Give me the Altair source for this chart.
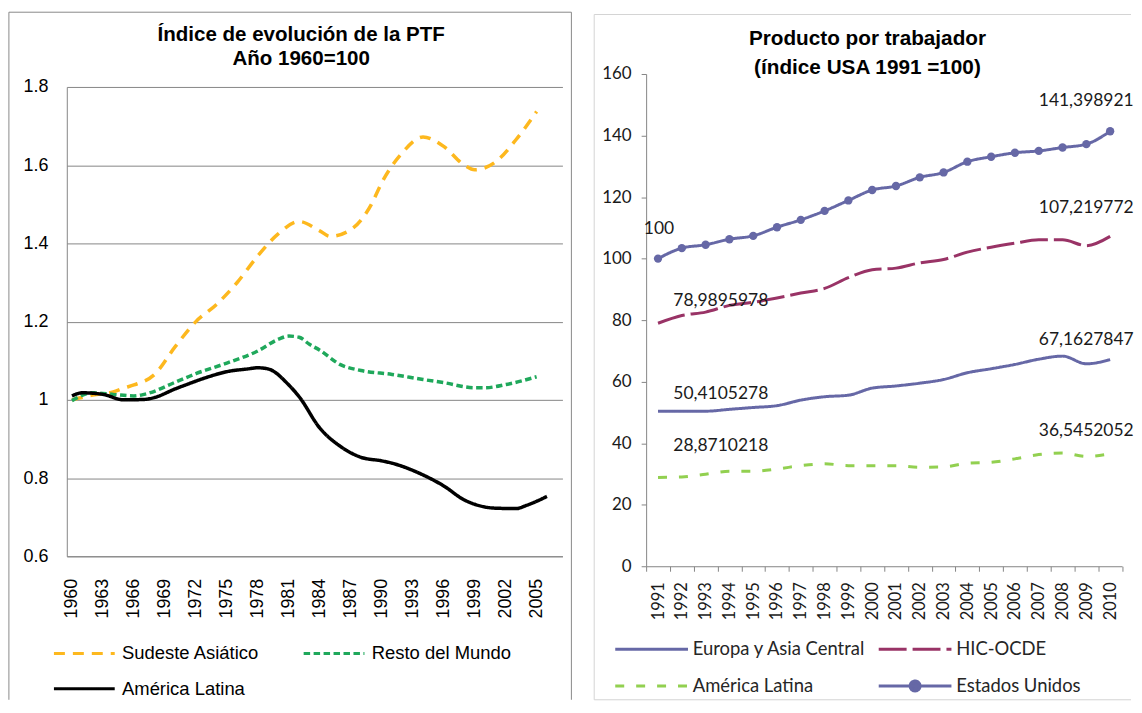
import altair as alt
import pandas as pd

# ---------------- Left chart data: Índice de evolución de la PTF ----------------
left_series = ["Sudeste Asiático", "Resto del Mundo", "América Latina"]

sud_years = [1960, 1962, 1964, 1965, 1966, 1968, 1970, 1972, 1974, 1976, 1978, 1980,
             1982, 1984, 1985, 1987, 1989, 1990, 1992, 1994, 1996, 1998, 1999, 2001,
             2003, 2005]
sud_vals = [1.0, 1.012, 1.02, 1.03, 1.038, 1.065, 1.136, 1.20, 1.244, 1.30, 1.368, 1.425,
            1.456, 1.432, 1.418, 1.435, 1.50, 1.555, 1.632, 1.672, 1.648, 1.60, 1.588, 1.608,
            1.665, 1.737]

resto_years = [1960, 1962, 1964, 1966, 1967, 1970, 1972, 1975, 1978, 1980, 1981, 1982,
               1983, 1984, 1986, 1988, 1991, 1994, 1996, 1999, 2000, 2002, 2005]
resto_vals = [0.998, 1.018, 1.014, 1.01, 1.014, 1.045, 1.067, 1.094, 1.125, 1.155, 1.163, 1.16,
              1.142, 1.127, 1.09, 1.075, 1.065, 1.052, 1.044, 1.031, 1.031, 1.039, 1.059]

lat_years = [1960, 1961, 1963, 1965, 1967, 1968, 1970, 1971, 1973, 1975, 1977, 1978, 1979,
             1981, 1982, 1984, 1986, 1988, 1990, 1991, 1994, 1996, 1998, 1999, 2001, 2003,
             2004, 2006]
lat_vals = [1.01, 1.018, 1.014, 1.0, 1.001, 1.006, 1.028, 1.038, 1.057, 1.072, 1.079, 1.082, 1.079,
            1.038, 1.008, 0.928, 0.881, 0.853, 0.844, 0.838, 0.808, 0.78, 0.744, 0.733, 0.723, 0.722,
            0.73, 0.753]

left_x_ticks = list(range(1960, 2006, 3))
left_y_ticks = [0.6, 0.8, 1.0, 1.2, 1.4, 1.6, 1.8]

# ---------------- Right chart data: Producto por trabajador ----------------
right_series = ["Europa y Asia Central", "HIC-OCDE", "América Latina", "Estados Unidos"]
right_years = [str(y) for y in range(1991, 2011)]
europa = [50.4105278, 50.4, 50.4, 51.0, 51.6, 52.2, 54.0, 55.1, 55.6, 57.9, 58.6, 59.5, 60.7,
          62.9, 64.2, 65.6, 67.3, 68.3, 65.8, 67.1627847]
hic = [78.9895978, 81.5, 82.6, 84.8, 85.8, 87.2, 88.8, 90.3, 93.8, 96.4, 96.9, 98.6, 99.7,
       102.1, 103.7, 105.0, 106.1, 106.1, 104.2, 107.219772]
amlat = [28.8710218, 29.0, 29.9, 30.9, 30.9, 31.6, 32.7, 33.3, 32.7, 32.7, 32.7, 32.2, 32.3,
         33.5, 33.8, 34.9, 36.3, 36.8, 35.7, 36.5452052]
eeuu = [100, 103.4, 104.5, 106.3, 107.4, 110.2, 112.6, 115.5, 118.9, 122.3, 123.6, 126.4, 128.0,
        131.5, 133.1, 134.4, 135.0, 136.1, 137.2, 141.398921]
right_y_ticks = [0, 20, 40, 60, 80, 100, 120, 140, 160]


def fmt_label(v):
    v = float(v)
    s = str(int(v)) if v.is_integer() else repr(v)
    return s.replace(".", ",")


# ---------------- build tables ----------------
rows = []
for name, yrs, vals in [(left_series[0], sud_years, sud_vals),
                        (left_series[1], resto_years, resto_vals),
                        (left_series[2], lat_years, lat_vals)]:
    for y, v in zip(yrs, vals):
        rows.append({"year": y, "value": v, "grupo": name})
left_df = pd.DataFrame(rows)

rows = []
for name, vals in zip(right_series, [europa, hic, amlat, eeuu]):
    for i, (y, v) in enumerate(zip(right_years, vals)):
        rows.append({"year": y, "value": v, "serie": name, "label": fmt_label(v),
                     "pos": "first" if i == 0 else ("last" if i == len(vals) - 1 else "mid")})
right_df = pd.DataFrame(rows)

# ---------------- layout constants ----------------
LW, LH = 497.4, 484
RW, RH = 477.6, 494
GRAY = "#868686"


def frame(x1, x2, y1, y2, color, sides):
    base = alt.Chart(pd.DataFrame({"k": [0]}))
    out = []
    if "top" in sides:
        out.append(base.mark_rule(color=color, strokeWidth=1).encode(
            x=alt.value(x1), x2=alt.value(x2), y=alt.value(y1)))
    if "bottom" in sides:
        out.append(base.mark_rule(color=color, strokeWidth=1).encode(
            x=alt.value(x1), x2=alt.value(x2), y=alt.value(y2)))
    if "left" in sides:
        out.append(base.mark_rule(color=color, strokeWidth=1).encode(
            x=alt.value(x1), y=alt.value(y1), y2=alt.value(y2)))
    if "right" in sides:
        out.append(base.mark_rule(color=color, strokeWidth=1).encode(
            x=alt.value(x2), y=alt.value(y1), y2=alt.value(y2)))
    return out


# legend symbol paths: a long horizontal stroke (and a dot for the marker series)
LINE = "M-4,0L4,0"
R_DOT = 0.548
LINE_DOT = (f"M-4,0L4,0M-{R_DOT},0A{R_DOT},{R_DOT},0,1,1,{R_DOT},0"
            f"A{R_DOT},{R_DOT},0,1,1,-{R_DOT},0Z")

# ---------------- left chart ----------------
leg_l = alt.Legend(title=None, orient="none", legendX=8.1, legendY=572, direction="horizontal",
                   columns=2, symbolType=LINE, symbolSize=232.6, symbolStrokeWidth=3,
                   labelFont="Liberation Sans", labelFontSize=18.5, labelColor="black",
                   labelOffset=28.3, columnPadding=36.6, rowPadding=16.5, labelLimit=300,
                   padding=0)

lx = alt.X("year:Q", scale=alt.Scale(domain=[1959.5, 2007.5], nice=False, zero=False),
           axis=alt.Axis(values=left_x_ticks, format="d", labelAngle=270, title=None,
                         labelFont="Liberation Sans", labelFontSize=18, labelColor="black",
                         labelPadding=22, ticks=False, tickSize=0, grid=False,
                         domainColor=GRAY, labelFlush=False, labelOverlap=False))
ly = alt.Y("value:Q", scale=alt.Scale(domain=[0.6, 1.8], range=[LH, 13], nice=False, zero=False),
           axis=alt.Axis(values=left_y_ticks, format="~g", title=None,
                         labelFont="Liberation Sans", labelFontSize=18, labelColor="black",
                         labelPadding=19, ticks=False, tickSize=0, grid=True, gridColor=GRAY,
                         gridWidth=1, domainColor=GRAY, labelFlush=False, labelOverlap=False))

left_lines = alt.Chart(left_df).mark_line(strokeWidth=3.5, interpolate="monotone").encode(
    x=lx, y=ly,
    color=alt.Color("grupo:N", scale=alt.Scale(domain=left_series,
                                                range=["#FDB81E", "#1FA85B", "#000000"]),
                    legend=leg_l),
    strokeDash=alt.StrokeDash("grupo:N", scale=alt.Scale(domain=left_series,
                                                          range=[[11, 8], [6.5, 3.5], [1, 0]]),
                              legend=leg_l),
)

left = alt.layer(
    left_lines,
    *frame(-58.1, 506.4, -62, 628, "#8a8a8a", ["top", "left", "right"]),
).properties(
    width=LW, height=LH,
    title=alt.TitleParams(["Índice de evolución de la PTF", "Año 1960=100"],
                          font="Liberation Sans", fontSize=20.6, fontWeight="bold", color="black",
                          lineHeight=25, anchor="middle", frame="group", offset=0,
                          dx=-13.5, dy=58.5),
)

# ---------------- right chart ----------------
r_colors = ["#6668A6", "#993366", "#92D050", "#6668A6"]

leg_r = alt.Legend(title=None, orient="none", legendX=-5.5, legendY=566, direction="horizontal",
                   columns=2, symbolSize=333, symbolStrokeWidth=3, symbolOpacity=1,
                   labelFont="Lato", labelFontSize=18.5, labelColor="#262626",
                   labelOffset=30.25, columnPadding=5.4, rowPadding=15.2, labelLimit=300,
                   padding=0)

rx = alt.X("year:O", bandPosition=0.5,
           scale=alt.Scale(type="band", paddingInner=0, paddingOuter=0),
           axis=alt.Axis(labelAngle=270, title=None, labelFont="Lato", labelFontSize=16.5,
                         labelColor="#1a1a1a", labelPadding=10.5, tickBand="extent", tickSize=5,
                         tickColor=GRAY, domainColor=GRAY, grid=False))
ry = alt.Y("value:Q", scale=alt.Scale(domain=[0, 160], nice=False),
           axis=alt.Axis(values=right_y_ticks, title=None, labelFont="Lato", labelFontSize=17,
                         labelColor="#1a1a1a", labelPadding=10, tickSize=5, tickColor=GRAY,
                         domainColor=GRAY, grid=False))

r_color = alt.Color("serie:N", scale=alt.Scale(domain=right_series, range=r_colors), legend=leg_r)

base_r = alt.Chart(right_df)
right_lines = base_r.mark_line(strokeWidth=3, interpolate="monotone").encode(
    x=rx, y=ry, color=r_color,
    strokeDash=alt.StrokeDash("serie:N", scale=alt.Scale(
        domain=right_series, range=[[1, 0], [28, 6], [9, 12], [1, 0]]), legend=leg_r),
)
# markers of the Estados Unidos series
right_points = base_r.transform_filter(alt.datum.serie == "Estados Unidos").mark_circle(
    size=70, opacity=1).encode(x=rx, y=ry, color=r_color)
# legend-only layer: gives the legend its line-with-dot symbol
right_legend_shapes = base_r.transform_filter("false").mark_point(
    filled=True, opacity=1).encode(
    x=rx, y=ry, color=r_color,
    shape=alt.Shape("serie:N", scale=alt.Scale(domain=right_series,
                                                range=[LINE, LINE, LINE, LINE_DOT]),
                    legend=leg_r),
)

label_specs = [
    ("Estados Unidos", "first", 1, -30),
    ("HIC-OCDE", "first", 63, -22),
    ("Europa y Asia Central", "first", 63, -17),
    ("América Latina", "first", 63, -32),
    ("Estados Unidos", "last", -24, -30),
    ("HIC-OCDE", "last", -24, -28),
    ("Europa y Asia Central", "last", -24, -19.5),
    ("América Latina", "last", -24, -22.5),
]
label_layers = []
for serie, pos, dx, dy in label_specs:
    label_layers.append(
        base_r.transform_filter((alt.datum.serie == serie) & (alt.datum.pos == pos))
        .mark_text(font="Lato", fontSize=17.5, color="#1a1a1a", dx=dx, dy=dy)
        .encode(x=rx, y=ry, text="label:N")
    )

right = alt.layer(
    right_lines, right_points, right_legend_shapes, *label_layers,
    *frame(-52.1, 486.6, -59.7, 628, "#d4d4d4", ["top", "left", "bottom"]),
).properties(
    width=RW, height=RH,
    title=alt.TitleParams(["Producto por trabajador", "(índice USA 1991 =100)"],
                          font="Liberation Sans", fontSize=20.8, fontWeight="bold",
                          color="black", lineHeight=28.4, anchor="middle", frame="group",
                          offset=0, dx=-16.7, dy=64.6),
)

chart = alt.hconcat(left, right, spacing=83.4, bounds="flush").resolve_scale(
    color="independent", strokeDash="independent", shape="independent"
).resolve_legend(
    color="independent", strokeDash="independent", shape="independent"
).configure_view(
    strokeWidth=0
).properties(
    padding={"left": 0, "top": 2, "right": 0, "bottom": 0},
    background="white",
)

chart.save("out.html", embed_options={"renderer": "svg", "actions": False})
